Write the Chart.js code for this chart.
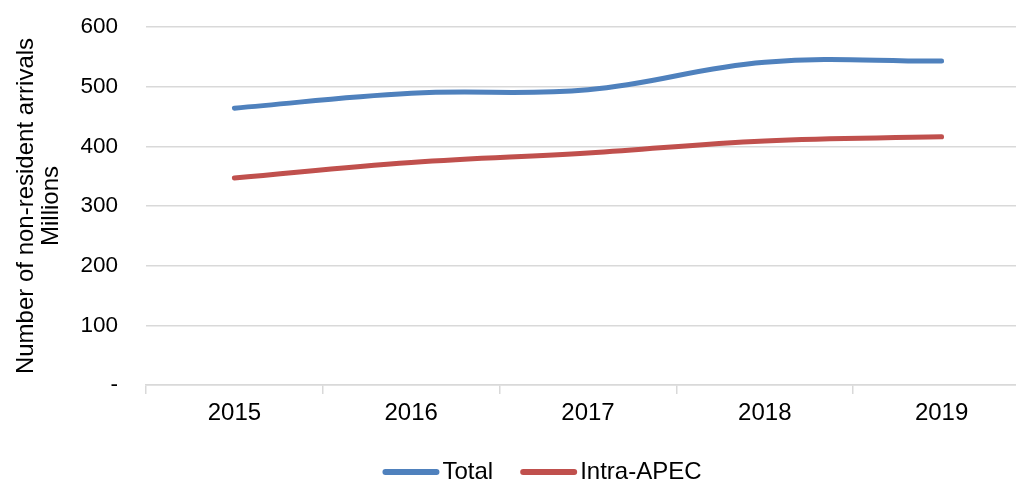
<!DOCTYPE html>
<html>
<head>
<meta charset="utf-8">
<script src="https://cdn.jsdelivr.net/npm/chart.js@4"></script>
<style>
  html, body { margin: 0; padding: 0; background: #fff; overflow: hidden; }
  #wrap { width: 1040px; height: 479px; }
</style>
</head>
<body>
<div id="wrap"><canvas id="chart" width="1040" height="479"></canvas></div>
<script>
const years = ["2015", "2016", "2017", "2018", "2019"];
const totalArrivals = [464, 489, 495, 541, 543];
const intraApec = [347, 373, 389, 409, 416];
const yTicks = [0, 100, 200, 300, 400, 500, 600];

const blue = "#4F81BD";
const red = "#C0504D";
const gridGray = "#d9d9d9";
const family = "'Liberation Sans', Arial, sans-serif";

// legend drawn by hand so the sample line sits right against its label, like the original
const bottomLegend = {
  id: "bottomLegend",
  afterDraw(chart) {
    const ctx = chart.ctx;
    ctx.save();
    ctx.font = "24px " + family;
    ctx.textBaseline = "middle";
    const sample = 57, gap = 3, between = 27, y = 472;
    const items = chart.data.datasets.map((ds) => ({ ds, w: ctx.measureText(ds.label).width }));
    const total = items.reduce((s, it) => s + sample + gap + it.w, 0) + between * (items.length - 1);
    let x = 542 - total / 2;
    items.forEach(({ ds, w }) => {
      ctx.strokeStyle = ds.borderColor;
      ctx.lineWidth = 6;
      ctx.lineCap = "round";
      ctx.beginPath();
      ctx.moveTo(x + 3, y);
      ctx.lineTo(x + sample - 3, y);
      ctx.stroke();
      ctx.fillStyle = "#000";
      ctx.fillText(ds.label, x + sample + gap, y);
      x += sample + gap + w + between;
    });
    ctx.restore();
  },
};

new Chart(document.getElementById("chart"), {
  type: "line",
  plugins: [bottomLegend],
  data: {
    labels: years,
    datasets: [
      {
        label: "Total",
        data: totalArrivals,
        borderColor: blue,
        backgroundColor: blue,
        borderWidth: 5,
        tension: 0.4,
        pointRadius: 0,
        borderCapStyle: "round",
      },
      {
        label: "Intra-APEC",
        data: intraApec,
        borderColor: red,
        backgroundColor: red,
        borderWidth: 5,
        tension: 0.4,
        pointRadius: 0,
        borderCapStyle: "round",
      },
    ],
  },
  options: {
    responsive: false,
    animation: false,
    layout: { padding: { top: 27, right: 10, left: 0, bottom: 38 } },
    plugins: {
      tooltip: { enabled: false },
      legend: { display: false },
    },
    scales: {
      x: {
        offset: true,
        grid: {
          offset: true,
          drawOnChartArea: false,
          color: gridGray,
          tickLength: 9,
          lineWidth: 1.5,
        },
        border: { color: gridGray, width: 1.5 },
        ticks: { color: "#000", font: { family: family, size: 24 }, padding: 5, maxRotation: 0 },
        afterFit: (scale) => { scale.height = 56; },
      },
      y: {
        min: 0,
        max: 600,
        afterBuildTicks: (scale) => { scale.ticks = yTicks.map((v) => ({ value: v })); },
        grid: { color: gridGray, lineWidth: 1.5, drawTicks: false },
        border: { display: false },
        ticks: {
          color: "#000",
          font: { family: family, size: 22.5 },
          padding: 28,
          callback: (v) => (v === 0 ? "-" : v),
        },
        title: {
          display: true,
          text: ["Number of non-resident arrivals", "Millions"],
          color: "#000",
          font: { family: family, size: 24, lineHeight: 1.05 },
          padding: { top: 14, bottom: 0 },
        },
        afterFit: (scale) => {
          scale.width = 146;
          // tick padding would otherwise push the plot down
          scale.paddingTop = 14;
          scale.paddingBottom = 14;
        },
      },
    },
  },
});
</script>
</body>
</html>
